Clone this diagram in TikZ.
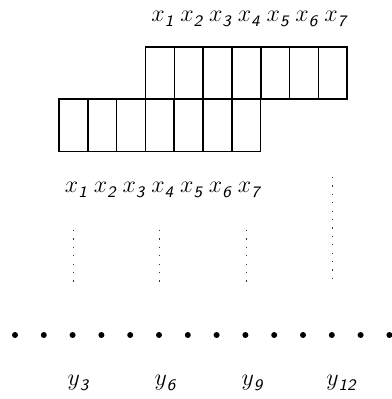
\documentclass[tikz,border=0pt]{standalone}
\newcommand{\sbs}[1]{\raisebox{-2.6pt}{\sffamily\itshape\footnotesize #1}}
\begin{document}
\begin{tikzpicture}[x=0.5pt,y=-0.5pt,
  cell/.style={draw,line width=0.8pt,minimum width=14.4pt,minimum height=26.2pt,inner sep=0pt,outer sep=0pt},
  lab/.style={inner sep=0pt,font=\large},
  vdots/.style={line width=0.5pt,dash pattern=on 0.6pt off 3.6pt,black!80},
  pt/.style={circle,fill,inner sep=0pt,minimum size=3pt}]
\useasboundingbox (0,0) rectangle (391,399);
% top row
\foreach \i in {1,...,7}{
  \node[cell] (t\i) at ({145.5+(\i-0.5)*28.8},73) {};
  \node[lab] (tl\i) at ({148+(\i-0.5)*28.8},19) {$x$\sbs{\i}};
}
% bottom row
\foreach \i in {1,...,7}{
  \node[cell] (b\i) at ({59+(\i-0.5)*28.8},125.5) {};
  \node[lab] (bl\i) at ({61.5+(\i-0.5)*28.8},190) {$x$\sbs{\i}};
}
% dots
\foreach \i in {1,...,14}{
  \node[pt] (d\i) at ({15+(\i-1)*28.8},335) {};
}
% dotted lines
\coordinate (v3a) at (73,230); \coordinate (v3b) at (73,283);
\coordinate (v6a) at (159.5,230); \coordinate (v6b) at (159.5,283);
\coordinate (v9a) at (246,230); \coordinate (v9b) at (246,283);
\coordinate (v12a) at (332.5,177); \coordinate (v12b) at (332.5,283);
\draw[vdots] (v3a) -- (v3b);
\draw[vdots] (v6a) -- (v6b);
\draw[vdots] (v9a) -- (v9b);
\draw[vdots] (v12a) -- (v12b);
% y labels
\node[lab] (y3) at (78,383) {$y$\sbs{3}};
\node[lab] (y6) at (165,383) {$y$\sbs{6}};
\node[lab] (y9) at (252,383) {$y$\sbs{9}};
\node[lab] (y12) at (341,383) {$y$\sbs{12}};
\end{tikzpicture}
\end{document}
